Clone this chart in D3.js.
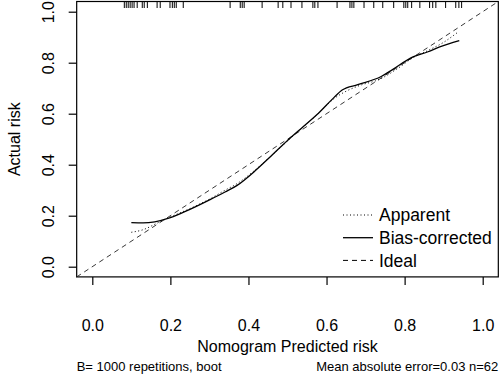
<!DOCTYPE html>
<html>
<head>
<meta charset="utf-8">
<script src="https://cdn.jsdelivr.net/npm/d3@7"></script>
<style>
  body { margin: 0; background: #fff; }
  svg { display: block; font-family: "Liberation Sans", Arial, sans-serif; }
</style>
</head>
<body>
<svg></svg>
<script>
// predicted risk of each patient (rug along the top)
const rugValues = [
  0.082, 0.087, 0.092, 0.097, 0.102, 0.107, 0.115, 0.128, 0.133, 0.141,
  0.166, 0.174, 0.199, 0.205, 0.210, 0.215, 0.233, 0.353, 0.379, 0.384,
  0.389, 0.435, 0.476, 0.488, 0.509, 0.537, 0.565, 0.570, 0.578, 0.627,
  0.660, 0.665, 0.670, 0.696, 0.721, 0.744, 0.772, 0.798, 0.803, 0.808,
  0.818, 0.839, 0.864, 0.872, 0.880, 0.905, 0.931, 0.939, 0.946,
];

// apparent calibration curve
const apparentX = [0.100, 0.130, 0.165, 0.200, 0.250, 0.300, 0.340, 0.370, 0.420, 0.460, 0.500,
  0.540, 0.580, 0.620, 0.650, 0.680, 0.740, 0.780, 0.820, 0.860, 0.900, 0.935];
const apparentY = [0.135, 0.145, 0.170, 0.195, 0.228, 0.265, 0.300, 0.325, 0.383, 0.437, 0.493,
  0.548, 0.602, 0.660, 0.688, 0.708, 0.738, 0.775, 0.818, 0.848, 0.880, 0.918];

// bias-corrected calibration curve
const biasX = [0.100, 0.130, 0.160, 0.200, 0.250, 0.300, 0.340, 0.370, 0.420, 0.460, 0.500,
  0.540, 0.580, 0.620, 0.640, 0.680, 0.740, 0.770, 0.820, 0.860, 0.890, 0.940];
const biasY = [0.173, 0.172, 0.176, 0.192, 0.225, 0.262, 0.293, 0.318, 0.380, 0.437, 0.495,
  0.549, 0.603, 0.665, 0.693, 0.714, 0.746, 0.774, 0.822, 0.843, 0.862, 0.887];

const tickValues = [0, 0.2, 0.4, 0.6, 0.8, 1.0];
const legendLabels = ["Apparent", "Bias-corrected", "Ideal"];
const xTitle = "Nomogram Predicted risk";
const yTitle = "Actual risk";
const footLeft = "B= 1000 repetitions, boot";
const footRight = "Mean absolute error=0.03 n=62";

const width = 500;
const height = 375;

const svg = d3.select("svg").attr("width", width).attr("height", height);

// R style: axis range is the data range stretched by 4% on each side
const x = d3.scaleLinear().domain([0, 1]).range([92.3, 482.7]);
const y = d3.scaleLinear().domain([0, 1]).range([266.7, 11.7]);
const lo = -0.04;
const hi = 1.04;

// plot box
svg.append("rect")
  .attr("x", x(lo))
  .attr("y", y(hi))
  .attr("width", x(hi) - x(lo))
  .attr("height", y(lo) - y(hi))
  .attr("fill", "none")
  .attr("stroke", "#000")
  .attr("stroke-width", 1.2);

// x axis
const xAxis = svg.append("g")
  .attr("transform", `translate(0,${y(lo)})`)
  .call(d3.axisBottom(x).tickValues(tickValues).tickSize(8).tickFormat(d3.format(".1f")));
xAxis.select(".domain").remove();
xAxis.selectAll("line").attr("stroke", "#000").attr("stroke-width", 1.2);
xAxis.selectAll("text")
  .attr("y", 54)
  .attr("dy", null)
  .attr("fill", "#000")
  .attr("font-size", 16)
  .attr("font-family", "Liberation Sans, Arial, sans-serif");

// y axis, labels parallel to the axis
const yAxis = svg.append("g")
  .attr("transform", `translate(${x(lo)},0)`)
  .call(d3.axisLeft(y).tickValues(tickValues).tickSize(8).tickFormat(d3.format(".1f")));
yAxis.select(".domain").remove();
yAxis.selectAll("line").attr("stroke", "#000").attr("stroke-width", 1.2);
yAxis.selectAll("text")
  .attr("x", null)
  .attr("dy", null)
  .attr("text-anchor", "middle")
  .attr("transform", "translate(-23,0) rotate(-90)")
  .attr("fill", "#000")
  .attr("font-size", 16)
  .attr("font-family", "Liberation Sans, Arial, sans-serif");

// axis titles
svg.append("text")
  .attr("x", (x(lo) + x(hi)) / 2)
  .attr("y", 351.5)
  .attr("text-anchor", "middle")
  .attr("font-size", 16)
  .text(xTitle);

svg.append("text")
  .attr("transform", `translate(19.6,${(y(lo) + y(hi)) / 2}) rotate(-90)`)
  .attr("text-anchor", "middle")
  .attr("font-size", 16)
  .text(yTitle);

// footnotes
svg.append("text")
  .attr("x", x(lo))
  .attr("y", 371)
  .attr("font-size", 13)
  .text(footLeft);

svg.append("text")
  .attr("x", x(hi))
  .attr("y", 371)
  .attr("text-anchor", "end")
  .attr("font-size", 13)
  .text(footRight);

// rug of predictions at the top
svg.append("g")
  .selectAll("line")
  .data(rugValues)
  .join("line")
  .attr("x1", (d) => x(d))
  .attr("x2", (d) => x(d))
  .attr("y1", y(hi))
  .attr("y2", y(hi) + 6.5)
  .attr("stroke", "#000")
  .attr("stroke-width", 1);

// ideal line y = x across the whole box
svg.append("line")
  .attr("x1", x(lo))
  .attr("y1", y(lo))
  .attr("x2", x(hi))
  .attr("y2", y(hi))
  .attr("stroke", "#222")
  .attr("stroke-width", 0.9)
  .attr("stroke-dasharray", "5,4");

const line = d3.line()
  .x((d) => x(d[0]))
  .y((d) => y(d[1]))
  .curve(d3.curveMonotoneX);

svg.append("path")
  .datum(d3.zip(apparentX, apparentY))
  .attr("d", line)
  .attr("fill", "none")
  .attr("stroke", "#000")
  .attr("stroke-width", 1)
  .attr("stroke-dasharray", "1,2.5");

svg.append("path")
  .datum(d3.zip(biasX, biasY))
  .attr("d", line)
  .attr("fill", "none")
  .attr("stroke", "#000")
  .attr("stroke-width", 1.3);

// legend
const dashes = ["1,2.5", null, "5,4"];
const legend = svg.append("g")
  .selectAll("g")
  .data(legendLabels)
  .join("g")
  .attr("transform", (d, i) => `translate(343,${215 + i * 22.7})`);

legend.append("line")
  .attr("x1", 0)
  .attr("x2", 30)
  .attr("stroke", "#000")
  .attr("stroke-width", (d, i) => (i === 1 ? 1.3 : 1))
  .attr("stroke-dasharray", (d, i) => dashes[i]);

legend.append("text")
  .attr("x", 36)
  .attr("y", 6.3)
  .attr("font-size", 17.5)
  .text((d) => d);
</script>
</body>
</html>
